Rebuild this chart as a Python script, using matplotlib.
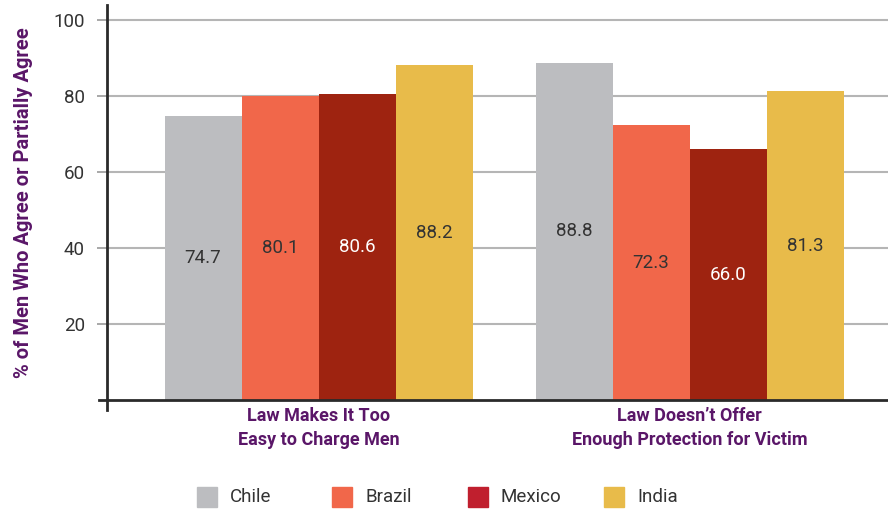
import matplotlib
matplotlib.use("Agg")
import matplotlib.pyplot as plt
from matplotlib.patches import Rectangle
import numpy as np

categories = ["Law Makes It Too\nEasy to Charge Men", "Law Doesn\u2019t Offer\nEnough Protection for Victim"]
series = ["Chile", "Brazil", "Mexico", "India"]
chile = [74.7, 88.8]
brazil = [80.1, 72.3]
mexico = [80.6, 66.0]
india = [88.2, 81.3]
values = [chile, brazil, mexico, india]
yticks = [20, 40, 60, 80, 100]

bar_colors = ["#BCBDC0", "#F1674A", "#9E2310", "#E8BB4A"]
legend_colors = ["#BCBDC0", "#F1674A", "#C01F2E", "#E8BB4A"]
label_colors = ["#333333", "#333333", "#FFFFFF", "#333333"]
purple = "#5A1668"
text_col = "#333333"

plt.rcParams['font.family'] = ['Roboto', 'DejaVu Sans']

W, H = 888, 512
fig = plt.figure(figsize=(W / 100, H / 100), dpi=100)
ax = fig.add_axes([107 / W, 112 / H, 781 / W, 395 / H])

x = np.arange(len(categories))
w = 77 / 371
for i, (vals, c, lc) in enumerate(zip(values, bar_colors, label_colors)):
    pos = x + (i - 1.5) * w
    ax.bar(pos, vals, width=w, color=c, zorder=3, linewidth=0)
    for p, v in zip(pos, vals):
        ax.text(p, v / 2, f"{v:.1f}", ha="center", va="center", fontsize=13.5, color=lc, zorder=4)

ax.set_xlim(-(318.5 - 107) / 371, 1 + (888 - 689.5) / 371)
ax.set_ylim(0, 104)
ax.set_yticks(yticks)
ax.set_yticklabels([str(t) for t in yticks], fontsize=13.5, color=text_col)
ax.tick_params(axis="y", length=7, color="#999999", width=1.2, pad=9)
for t in yticks:
    ax.axhline(t, color="#B5B5B5", linewidth=1.5, zorder=1)

ax.set_xticks(x)
ax.set_xticklabels(categories, fontsize=13, fontweight="bold", color=purple, linespacing=1.45)
ax.tick_params(axis="x", length=0, pad=5)

for s in ax.spines.values():
    s.set_visible(False)
ax.plot([-8 / 781, 1], [0, 0], transform=ax.transAxes, color="#2A2A2A", lw=2, clip_on=False, zorder=5)
ax.plot([0, 0], [-10 / 395, 1], transform=ax.transAxes, color="#2A2A2A", lw=2, clip_on=False, zorder=5)

ax.set_ylabel("% of Men Who Agree or Partially Agree", fontsize=14.5, fontweight="bold", color=purple)
ax.yaxis.set_label_coords(-74 / 781, 0.5)

# legend
lx = [197, 332, 468, 604]
ly = 497
for px, name, c in zip(lx, series, legend_colors):
    fig.patches.append(Rectangle((px / W, (H - ly - 10) / H), 20 / W, 20 / H,
                                 transform=fig.transFigure, color=c, figure=fig))
    fig.text((px + 33) / W, (H - ly) / H, name, fontsize=13.5, color=text_col, va="center", ha="left")

fig.savefig("out.png", dpi=100)
